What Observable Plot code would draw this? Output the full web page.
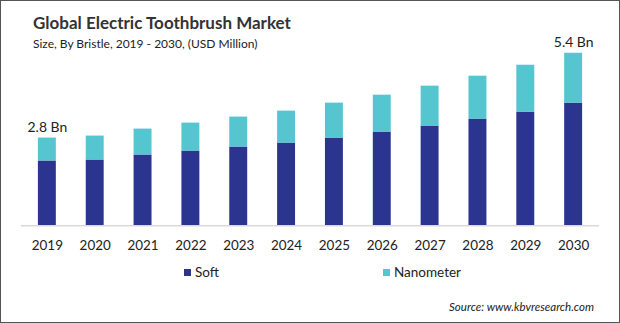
<!DOCTYPE html>
<html>
<head>
<meta charset="utf-8">
<script src="https://cdn.jsdelivr.net/npm/d3@7"></script>
<script src="https://cdn.jsdelivr.net/npm/@observablehq/plot@0.6"></script>
<style>
  html, body { margin: 0; padding: 0; background: #fff; }
  #wrap { position: relative; width: 620px; height: 323px; box-sizing: border-box; border: 1px solid #555; overflow: hidden; font-family: Lato, "Open Sans", sans-serif; }
  #title { position: absolute; left: 32px; top: 11px; font-size: 17px; font-weight: bold; color: #333; white-space: nowrap; }
  #subtitle { position: absolute; left: 32px; top: 35px; font-size: 12px; color: #222; white-space: nowrap; }
  #chart { position: absolute; left: 0; top: 30px; }
  .leg { position: absolute; top: 263px; font-size: 13.5px; color: #222; display: flex; align-items: center; }
  .sw { width: 7px; height: 7px; margin-right: 4px; display: inline-block; }
  #source { position: absolute; right: 25px; top: 299px; font-size: 11.5px; font-style: italic; color: #222; white-space: nowrap; }
</style>
</head>
<body>
<div id="wrap">
  <div id="title">Global Electric Toothbrush Market</div>
  <div id="subtitle">Size, By Bristle, 2019 - 2030, (USD Million)</div>
  <div id="chart"></div>
  <div class="leg" style="left:183px"><span class="sw" style="background:#2b3590"></span>Soft</div>
  <div class="leg" style="left:382px"><span class="sw" style="background:#55c5d0"></span>Nanometer</div>
  <div id="source">Source: www.kbvresearch.com</div>
</div>
<script>
const years = ["2019","2020","2021","2022","2023","2024","2025","2026","2027","2028","2029","2030"];
const soft = [2044, 2075, 2233, 2358, 2484, 2610, 2767, 2956, 3145, 3365, 3585, 3868];
const nanometer = [723, 755, 817, 881, 944, 1006, 1101, 1163, 1258, 1352, 1478, 1572];
const seriesNames = ["Soft", "Nanometer"];
const seriesColors = ["#2b3590", "#55c5d0"];
const endLabels = [{year: "2019", text: "2.8 Bn"}, {year: "2030", text: "5.4 Bn"}];

const rows = [];
years.forEach((y, i) => {
  rows.push({year: y, series: "Soft", value: soft[i]});
  rows.push({year: y, series: "Nanometer", value: nanometer[i]});
});
const totals = years.map((y, i) => ({year: y, total: soft[i] + nanometer[i]}));
const labelRows = endLabels.map(d => ({...d, total: totals.find(t => t.year === d.year).total}));

const chart = Plot.plot({
  width: 620,
  height: 225,
  marginTop: 4,
  marginBottom: 30,
  marginLeft: 20,
  marginRight: 20,
  style: {fontFamily: "Lato, 'Open Sans', sans-serif", fontSize: "13.5px", color: "#222", background: "transparent"},
  x: {domain: years, paddingInner: 0.62, paddingOuter: 0.295, label: null, tickSize: 0, tickPadding: 15},
  y: {domain: [0, 6000], axis: null},
  color: {domain: seriesNames, range: seriesColors},
  marks: [
    Plot.barY(rows, {x: "year", y: "value", fill: "series", order: seriesNames}),
    Plot.ruleY([0], {stroke: "#d9d9d9", strokeWidth: 1.5}),
    Plot.text(labelRows, {x: "year", y: "total", text: "text", dy: -11, fontSize: 14, fill: "#222"})
  ]
});
document.getElementById("chart").appendChild(chart);
</script>
</body>
</html>
